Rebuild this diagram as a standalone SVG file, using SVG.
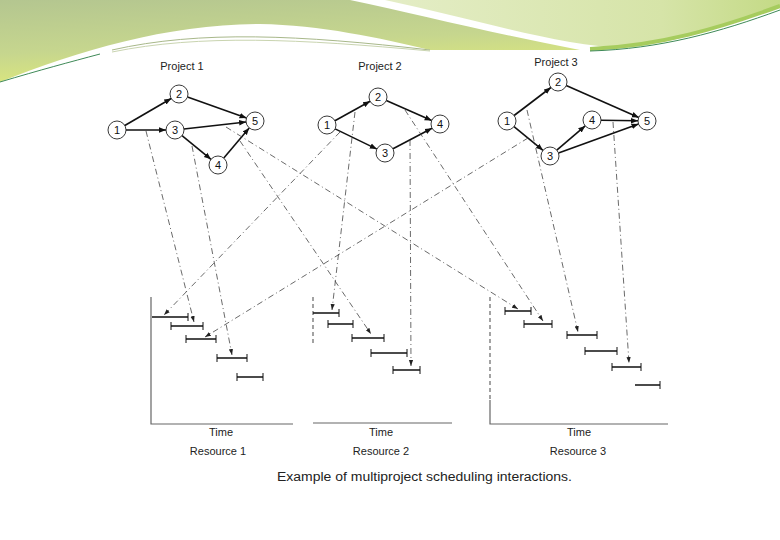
<svg xmlns="http://www.w3.org/2000/svg" width="780" height="540" viewBox="0 0 780 540">
<defs>
<linearGradient id="gl" x1="0" y1="0" x2="0.3" y2="1">
<stop offset="0" stop-color="#b4c690"/>
<stop offset="0.6" stop-color="#c6d68e"/>
<stop offset="1" stop-color="#dce87c"/>
</linearGradient>
<linearGradient id="gr" x1="0" y1="0" x2="1" y2="0">
<stop offset="0" stop-color="#e4edc6"/>
<stop offset="0.7" stop-color="#d6e4a8"/>
<stop offset="1" stop-color="#c4da86"/>
</linearGradient>
<marker id="ah" viewBox="0 0 10 10" refX="10" refY="5" markerWidth="7" markerHeight="7" markerUnits="userSpaceOnUse" orient="auto">
<path d="M0,1 L10,5 L0,9 Z" fill="#111"/>
</marker>
<marker id="ad" viewBox="0 0 10 10" refX="10" refY="5" markerWidth="6" markerHeight="6" markerUnits="userSpaceOnUse" orient="auto">
<path d="M0,1.5 L10,5 L0,8.5 Z" fill="#222"/>
</marker>
</defs>
<style>
.lbl{font-family:"Liberation Sans",Arial,sans-serif;font-size:11px;fill:#222;text-anchor:middle}
.num{font-family:"Liberation Sans",Arial,sans-serif;font-size:11px;fill:#111;text-anchor:middle}
.node circle{fill:#fff;stroke:#222;stroke-width:0.9}
.edge{stroke:#111;stroke-width:1.6;fill:none;marker-end:url(#ah)}
.dash{stroke:#444;stroke-width:0.8;stroke-dasharray:6 3 1 3;fill:none;marker-end:url(#ad)}
.bar{stroke:#111;stroke-width:1.6;fill:none}
.tick{stroke:#111;stroke-width:1;fill:none}
.axis{stroke:#666;stroke-width:1.2;fill:none}
</style>
<rect width="780" height="540" fill="#fff"/>
<g id="header">
<path d="M0,0 H350 C420,15 500,35 580,50 L430,50 C380,38 320,25 260,24 C170,24 80,50 0,82 Z" fill="url(#gl)"/>
<path d="M385,0 H780 V6 C720,26 680,42 625,48 C560,46 470,18 385,0 Z" fill="url(#gr)"/>
<path d="M590,49 C660,46 720,28 780,6" stroke="#a6cc5e" stroke-width="4" fill="none"/>
<path d="M590,51 C660,49 720,32 780,10" stroke="#3f8a58" stroke-width="1" fill="none"/>
<path d="M0,82 C40,70 70,62 100,54" stroke="#3f8a58" stroke-width="1" fill="none"/>
<path d="M112,50 C200,30 300,35 430,50" stroke="#a8b88a" stroke-width="1" fill="none"/>
<path d="M112,52 C200,34 300,39 430,51" stroke="#c9d4b0" stroke-width="1" fill="none"/>
</g>
<g id="titles">
<text class="lbl" x="182" y="70">Project 1</text>
<text class="lbl" x="380" y="70">Project 2</text>
<text class="lbl" x="556" y="66">Project 3</text>
</g>
<g id="edges">
<line class="edge" x1="124.8" y1="125.5" x2="171.2" y2="98.5"/>
<line class="edge" x1="126" y1="130" x2="166" y2="130"/>
<line class="edge" x1="187.5" y1="97" x2="246.5" y2="118"/>
<line class="edge" x1="183.9" y1="129" x2="246.1" y2="122"/>
<line class="edge" x1="182" y1="135.7" x2="211" y2="159.3"/>
<line class="edge" x1="223.8" y1="158.1" x2="249.2" y2="127.9"/>
<line class="edge" x1="334.9" y1="120.7" x2="370.1" y2="101.3"/>
<line class="edge" x1="335.1" y1="128.9" x2="376.9" y2="149.1"/>
<line class="edge" x1="386.3" y1="100.6" x2="431.7" y2="120.4"/>
<line class="edge" x1="393" y1="148.8" x2="432" y2="128.2"/>
<line class="edge" x1="514.1" y1="115.5" x2="550.9" y2="87.5"/>
<line class="edge" x1="514" y1="126.7" x2="543" y2="150.3"/>
<line class="edge" x1="566.2" y1="85.6" x2="638.8" y2="117.4"/>
<line class="edge" x1="601" y1="120.2" x2="638" y2="120.8"/>
<line class="edge" x1="556.8" y1="150.1" x2="585.2" y2="125.9"/>
<line class="edge" x1="558.5" y1="152.9" x2="638.5" y2="124.1"/>
</g>
<g id="p1-1" class="node"><circle cx="117" cy="130" r="9"/><text class="num" x="117" y="134">1</text></g>
<g id="p1-2" class="node"><circle cx="179" cy="94" r="9"/><text class="num" x="179" y="98">2</text></g>
<g id="p1-3" class="node"><circle cx="175" cy="130" r="9"/><text class="num" x="175" y="134">3</text></g>
<g id="p1-4" class="node"><circle cx="218" cy="165" r="9"/><text class="num" x="218" y="169">4</text></g>
<g id="p1-5" class="node"><circle cx="255" cy="121" r="9"/><text class="num" x="255" y="125">5</text></g>
<g id="p2-1" class="node"><circle cx="327" cy="125" r="9"/><text class="num" x="327" y="129">1</text></g>
<g id="p2-2" class="node"><circle cx="378" cy="97" r="9"/><text class="num" x="378" y="101">2</text></g>
<g id="p2-3" class="node"><circle cx="385" cy="153" r="9"/><text class="num" x="385" y="157">3</text></g>
<g id="p2-4" class="node"><circle cx="440" cy="124" r="9"/><text class="num" x="440" y="128">4</text></g>
<g id="p3-1" class="node"><circle cx="507" cy="121" r="9"/><text class="num" x="507" y="125">1</text></g>
<g id="p3-2" class="node"><circle cx="558" cy="82" r="9"/><text class="num" x="558" y="86">2</text></g>
<g id="p3-3" class="node"><circle cx="550" cy="156" r="9"/><text class="num" x="550" y="160">3</text></g>
<g id="p3-4" class="node"><circle cx="592" cy="120" r="9"/><text class="num" x="592" y="124">4</text></g>
<g id="p3-5" class="node"><circle cx="647" cy="121" r="9"/><text class="num" x="647" y="125">5</text></g>
<g id="connectors">
<line class="dash" x1="146" y1="131" x2="194" y2="322"/>
<line class="dash" x1="192" y1="146" x2="232" y2="355"/>
<line class="dash" x1="240" y1="141" x2="371" y2="334"/>
<line class="dash" x1="226" y1="127" x2="518" y2="309"/>
<line class="dash" x1="340" y1="132" x2="164" y2="315"/>
<line class="dash" x1="528" y1="138" x2="205" y2="337"/>
<line class="dash" x1="355" y1="112" x2="332" y2="310"/>
<line class="dash" x1="405" y1="110" x2="543" y2="321"/>
<line class="dash" x1="410" y1="140" x2="411" y2="366"/>
<line class="dash" x1="527" y1="110" x2="578" y2="332"/>
<line class="dash" x1="613" y1="122" x2="629" y2="363"/>
</g>
<g id="resource1">
<path class="axis" d="M151,297 V424 H293"/>
<path class="bar" d="M152,317 H188 M171,326 H203 M186,339 H216 M217,358 H247 M237,377 H263"/>
<path class="tick" d="M188,313 V321 M171,322 V330 M203,322 V330 M186,335 V343 M216,335 V343 M217,354 V362 M247,354 V362 M237,373 V381 M263,373 V381"/>
<text class="lbl" x="221" y="436">Time</text>
<text class="lbl" x="218" y="455">Resource 1</text>
</g>
<g id="resource2">
<path class="axis" d="M313,297 V345" stroke-dasharray="4 3"/>
<path class="axis" d="M313,423 H452"/>
<path class="bar" d="M313,313 H339 M328,324 H353 M352,338 H384 M371,353 H407 M393,370 H420"/>
<path class="tick" d="M339,309 V317 M328,320 V328 M353,320 V328 M352,334 V342 M384,334 V342 M371,349 V357 M407,349 V357 M393,366 V374 M420,366 V374"/>
<text class="lbl" x="381" y="436">Time</text>
<text class="lbl" x="381" y="455">Resource 2</text>
</g>
<g id="resource3">
<path class="axis" d="M490,297 V400" stroke-dasharray="4 3"/>
<path class="axis" d="M490,400 V424 H668"/>
<path class="bar" d="M505,311 H531 M524,324 H552 M567,335 H597 M585,351 H617 M612,367 H641 M635,385 H660"/>
<path class="tick" d="M505,307 V315 M531,307 V315 M524,320 V328 M552,320 V328 M567,331 V339 M597,331 V339 M585,347 V355 M617,347 V355 M612,363 V371 M641,363 V371 M660,381 V389"/>
<text class="lbl" x="579" y="436">Time</text>
<text class="lbl" x="578" y="455">Resource 3</text>
</g>
<text x="277" y="481" font-family="Liberation Sans, Arial, sans-serif" font-size="12.5" fill="#222" textLength="295" lengthAdjust="spacingAndGlyphs">Example of multiproject scheduling interactions.</text>
</svg>
